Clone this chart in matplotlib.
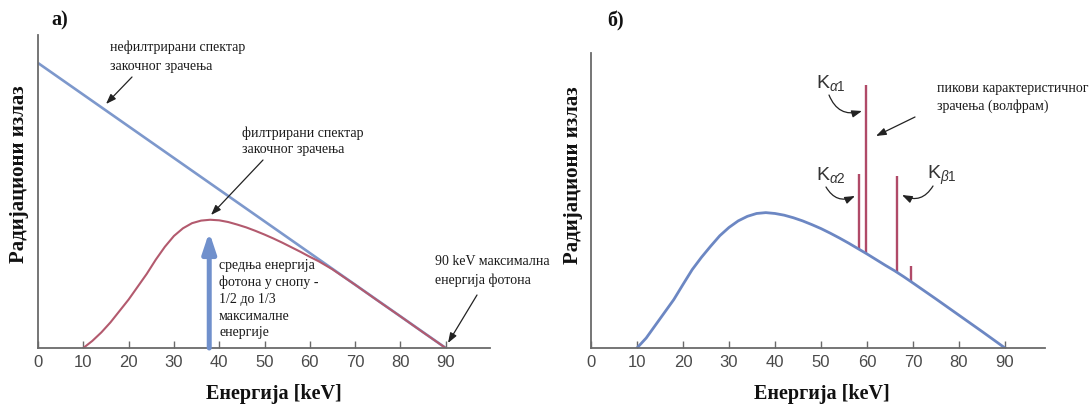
import numpy as np
import matplotlib
matplotlib.use("Agg")
import matplotlib.pyplot as plt
from matplotlib.patches import FancyArrowPatch

plt.rcParams["font.family"] = ["Liberation Serif", "DejaVu Serif"]
plt.rcParams["mathtext.fontset"] = "custom"
plt.rcParams["mathtext.rm"] = "Liberation Sans"
plt.rcParams["mathtext.it"] = "Liberation Sans:italic"

# а) unfiltered vs filtered bremsstrahlung spectrum
unfilt_e = [0, 90]
unfilt_i = [100, 0]

filt_e = [10, 12, 14, 16, 18, 20, 22, 24, 26, 28, 30, 32, 34, 36, 38, 40, 42, 44,
          46, 48, 50, 52, 54, 56, 58, 60, 62, 65, 70, 75, 80, 85, 90]
filt_i = [0, 2.5, 5.5, 9, 13, 17, 21.5, 26, 31, 35.5, 39.3, 42, 43.8, 44.7, 45,
          44.8, 44.2, 43.3, 42.3, 41.1, 39.8, 38.4, 36.9, 35.3, 33.7, 32.0, 30.4,
          27.6, 22.2, 16.6, 11.1, 5.5, 0]

mean_e = 37.8
mean_i = 40.7

# б) filtered spectrum with tungsten characteristic lines
spec_e = [10, 12, 14, 16, 18, 20, 22, 24, 26, 28, 30, 32, 34, 36, 38, 40, 42, 44,
          46, 48, 50, 52, 54, 56, 58, 60, 62, 64, 66, 68, 70, 75, 80, 85, 90]
spec_i = [0, 3.5, 8, 12.5, 17, 22.3, 27.5, 31.8, 35.7, 39.4, 42.3, 44.6, 46.2,
          47.2, 47.5, 47.2, 46.6, 45.7, 44.6, 43.3, 41.9, 40.3, 38.6, 36.8, 34.9,
          33.0, 31.0, 29.0, 27.1, 25.0, 22.8, 17.2, 11.5, 5.8, 0]

peak_e = [58.3, 59.8, 66.6, 69.5]
peak_i = [61.1, 92.3, 60.4, 28.8]

ticks = [0, 10, 20, 30, 40, 50, 60, 70, 80, 90]

W, H = 1091, 407
blue = "#7d98cc"
blue2 = "#6c87c3"
red = "#b35a6e"
peak_red = "#b04a68"
grey = "#6a6a6a"


def fp(x, y):
    # pixel position (from top-left) -> figure fraction
    return (x / W, 1 - y / H)


def style(ax):
    for s in ["top", "right"]:
        ax.spines[s].set_visible(False)
    for s in ["left", "bottom"]:
        ax.spines[s].set_color(grey)
        ax.spines[s].set_linewidth(1.3)
    ax.set_yticks([])
    ax.set_xticks(ticks)
    ax.tick_params(axis="x", direction="in", length=5, width=1, color=grey,
                   labelcolor="#4a4a4a", labelsize=12, pad=5)
    for lab in ax.get_xticklabels():
        lab.set_fontfamily("Liberation Sans")


fig = plt.figure(figsize=(W / 100, H / 100), dpi=100)

ax1 = fig.add_axes([38 / W, 59 / H, 452 / W, 313 / H])
ax1.set_xlim(0, 452 / 4.53)
ax1.set_ylim(0, 313 / 2.85)
ax1.plot(unfilt_e, unfilt_i, color=blue, lw=1.9, solid_capstyle="butt")
ax1.plot(filt_e, filt_i, color=red, lw=1.5)
ax1.annotate("", xy=(mean_e, mean_i), xytext=(mean_e, 0),
             arrowprops=dict(arrowstyle="-|>,head_width=0.4,head_length=1.2",
                             lw=3.6, color="#7090cc", shrinkA=0, shrinkB=0))
style(ax1)

ax2 = fig.add_axes([591 / W, 59 / H, 454 / W, 295 / H])
ax2.set_xlim(0, 454 / 4.6)
ax2.set_ylim(0, 295 / 2.85)
base = np.interp(peak_e, spec_e, spec_i)
ax2.vlines(peak_e, base, peak_i, color=peak_red, lw=1.7)
ax2.plot(spec_e, spec_i, color=blue2, lw=2.0)
style(ax2)

# panel and axis labels
bold = dict(fontweight="bold", fontsize=14.5, color="#111111")
fig.text(*fp(60, 20), "а)", ha="center", va="center", **bold)
fig.text(*fp(616, 21), "б)", ha="center", va="center", **bold)
fig.text(*fp(274, 394), "Енергија [keV]", ha="center", va="center", **bold)
fig.text(*fp(822, 394), "Енергија [keV]", ha="center", va="center", **bold)
bold["fontsize"] = 15
fig.text(*fp(19, 174), "Радијациони излаз", ha="center", va="center",
         rotation=90, **bold)
fig.text(*fp(573, 175), "Радијациони излаз", ha="center", va="center",
         rotation=90, **bold)

note = dict(fontsize=10, color="#1a1a1a", ha="left", va="top")
arr = dict(arrowstyle="-|>,head_width=0.18,head_length=0.5", color="#222222",
           lw=0.9, shrinkA=0, shrinkB=0)

fig.text(*fp(110, 41), "нефилтрирани спектар\nзакочног зрачења",
         linespacing=1.55, **note)
fig.text(*fp(242, 126), "филтрирани спектар\nзакочног зрачења",
         linespacing=1.4, **note)
fig.text(*fp(219, 259),
         "средња енергија\nфотона у снопу -\n1/2 до 1/3\nмаксималне\nенергије",
         linespacing=1.37, **note)
fig.text(*fp(435, 255), "90 keV максимална\nенергија фотона",
         linespacing=1.55, **note)
fig.text(*fp(937, 82), "пикови карактеристичног\nзрачења (волфрам)",
         linespacing=1.4, **note)

for start, end in [((132, 77), (106, 104)), ((263, 160), (211, 215)),
                   ((477, 295), (448, 343)), ((915, 117), (876, 136))]:
    fig.add_artist(FancyArrowPatch(fp(*start), fp(*end),
                                   transform=fig.transFigure,
                                   mutation_scale=12, **arr))

# characteristic line labels
kfont = dict(fontsize=14, fontfamily="Liberation Sans", color="#333333",
             ha="left", va="center")
fig.text(*fp(816, 83), r"K$_{\alpha 1}$", **kfont)
fig.text(*fp(816, 175), r"K$_{\alpha 2}$", **kfont)
fig.text(*fp(927, 175), r"K$_{\beta 1}$", **kfont)

for start, end, rad in [((829, 95), (862, 111), 0.45),
                        ((826, 187), (855, 196), 0.45),
                        ((933, 186), (902, 195), -0.45)]:
    fig.add_artist(FancyArrowPatch(fp(*start), fp(*end),
                                   transform=fig.transFigure,
                                   connectionstyle=f"arc3,rad={rad}",
                                   mutation_scale=12, **arr))

fig.savefig("out.png", dpi=100)
